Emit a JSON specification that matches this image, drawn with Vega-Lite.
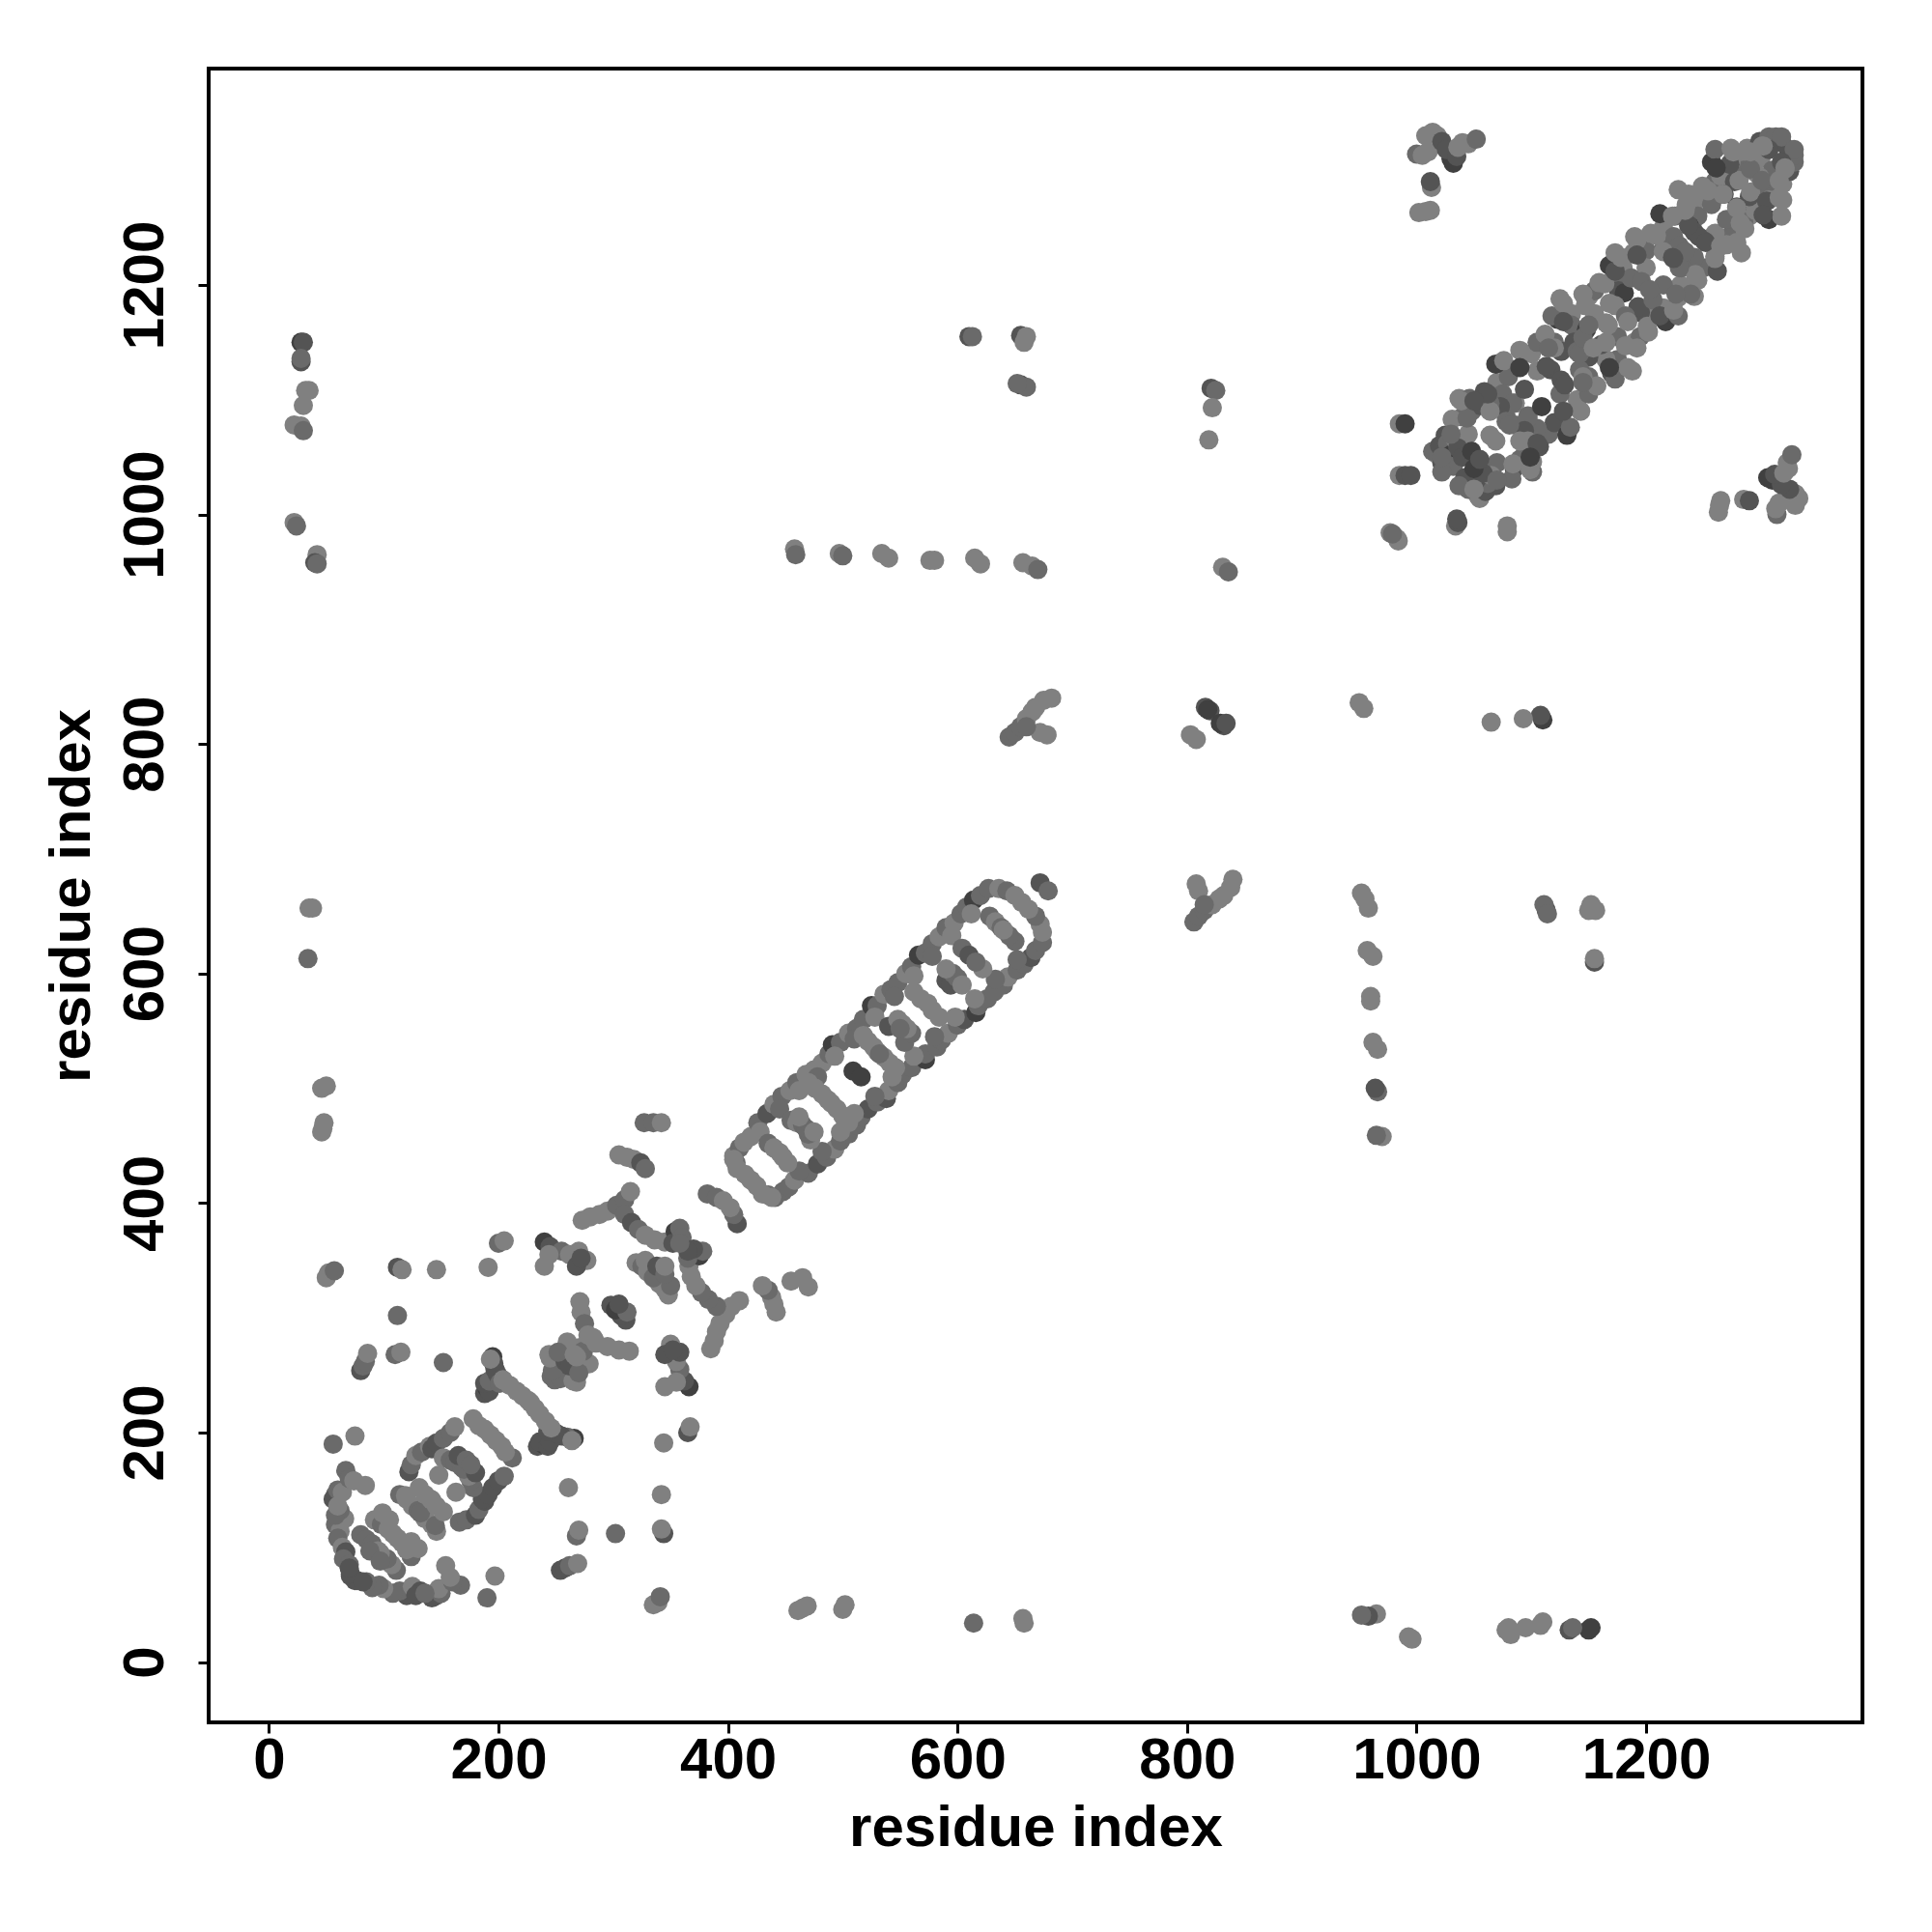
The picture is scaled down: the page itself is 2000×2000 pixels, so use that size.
{"$schema":"https://vega.github.io/schema/vega-lite/v6.json","width":1712,"height":1712,"autosize":"none","padding":{"left":216,"top":71,"right":72,"bottom":217},"background":"white","config":{"view":{"stroke":"#000","strokeWidth":4}},
"data":{"values":[
{"x":58,"y":146,"g":2},{"x":146,"y":58,"g":2},{"x":56,"y":142,"g":1},{"x":142,"y":56,"g":1},{"x":60,"y":150,"g":2},{"x":150,"y":60,"g":2},{"x":64,"y":148,"g":3},{"x":148,"y":64,"g":3},{"x":67,"y":167,"g":2},{"x":167,"y":67,"g":2},{"x":70,"y":160,"g":2},{"x":160,"y":70,"g":2},{"x":74,"y":158,"g":3},{"x":158,"y":74,"g":3},{"x":84,"y":154,"g":3},{"x":154,"y":84,"g":3},{"x":58,"y":120,"g":2},{"x":120,"y":58,"g":1},{"x":62,"y":114,"g":3},{"x":114,"y":62,"g":2},{"x":60,"y":108,"g":2},{"x":108,"y":60,"g":2},{"x":66,"y":125,"g":3},{"x":125,"y":66,"g":3},{"x":62,"y":132,"g":2},{"x":132,"y":62,"g":1},{"x":58,"y":128,"g":2},{"x":128,"y":58,"g":1},{"x":60,"y":136,"g":3},{"x":136,"y":60,"g":2},{"x":64,"y":100,"g":3},{"x":100,"y":64,"g":3},{"x":67,"y":96,"g":1},{"x":96,"y":67,"g":2},{"x":65,"y":90,"g":2},{"x":90,"y":65,"g":2},{"x":70,"y":85,"g":2},{"x":85,"y":70,"g":2},{"x":71,"y":75,"g":1},{"x":75,"y":71,"g":1},{"x":77,"y":71,"g":1},{"x":71,"y":77,"g":1},{"x":82,"y":70,"g":1},{"x":70,"y":82,"g":1},
{"x":56,"y":190,"g":2},{"x":190,"y":56,"g":2},{"x":75,"y":197,"g":3},{"x":197,"y":75,"g":3},
{"x":80,"y":111,"g":2},{"x":111,"y":80,"g":2},{"x":85,"y":107,"g":2},{"x":107,"y":85,"g":3},{"x":90,"y":103,"g":2},{"x":103,"y":90,"g":2},{"x":95,"y":97,"g":3},{"x":97,"y":95,"g":3},{"x":88,"y":97,"g":2},{"x":97,"y":88,"g":2},
{"x":92,"y":124,"g":3},{"x":124,"y":92,"g":2},{"x":98,"y":120,"g":2},{"x":120,"y":98,"g":3},{"x":104,"y":116,"g":3},{"x":116,"y":104,"g":3},{"x":108,"y":112,"g":3},{"x":112,"y":108,"g":3},{"x":99,"y":130,"g":3},{"x":130,"y":99,"g":3},{"x":105,"y":124,"g":3},{"x":124,"y":105,"g":3},
{"x":114,"y":146,"g":2},{"x":146,"y":114,"g":3},{"x":120,"y":142,"g":3},{"x":142,"y":120,"g":3},{"x":125,"y":136,"g":3},{"x":136,"y":125,"g":3},{"x":130,"y":132,"g":2},{"x":132,"y":130,"g":2},{"x":119,"y":145,"g":3},{"x":145,"y":119,"g":2},
{"x":131,"y":152,"g":3},{"x":152,"y":131,"g":3},{"x":136,"y":146,"g":3},{"x":146,"y":136,"g":3},{"x":141,"y":142,"g":3},{"x":142,"y":141,"g":3},
{"x":122,"y":166,"g":1},{"x":166,"y":122,"g":2},{"x":124,"y":172,"g":2},{"x":172,"y":124,"g":2},{"x":128,"y":180,"g":3},{"x":180,"y":128,"g":1},{"x":133,"y":183,"g":2},{"x":183,"y":133,"g":2},{"x":140,"y":188,"g":3},{"x":188,"y":140,"g":1},{"x":142,"y":186,"g":1},{"x":186,"y":142,"g":1},{"x":146,"y":191,"g":1},{"x":191,"y":146,"g":1},{"x":152,"y":195,"g":2},{"x":195,"y":152,"g":1},{"x":158,"y":200,"g":2},{"x":200,"y":158,"g":1},{"x":162,"y":205,"g":3},{"x":205,"y":162,"g":2},
{"x":152,"y":178,"g":3},{"x":178,"y":152,"g":2},{"x":158,"y":176,"g":2},{"x":176,"y":158,"g":2},{"x":162,"y":174,"g":2},{"x":174,"y":162,"g":3},{"x":168,"y":170,"g":2},{"x":170,"y":168,"g":2},{"x":165,"y":180,"g":1},{"x":180,"y":165,"g":1},{"x":172,"y":176,"g":2},{"x":176,"y":172,"g":2},{"x":148,"y":163,"g":3},{"x":163,"y":148,"g":3},
{"x":178,"y":212,"g":3},{"x":212,"y":178,"g":2},{"x":183,"y":206,"g":3},{"x":206,"y":183,"g":3},{"x":188,"y":203,"g":3},{"x":203,"y":188,"g":3},{"x":193,"y":198,"g":3},{"x":198,"y":193,"g":3},
{"x":188,"y":234,"g":1},{"x":234,"y":188,"g":1},{"x":190,"y":239,"g":0},{"x":239,"y":190,"g":0},{"x":192,"y":236,"g":1},{"x":236,"y":192,"g":1},{"x":188,"y":243,"g":1},{"x":243,"y":188,"g":1},{"x":192,"y":245,"g":2},{"x":245,"y":192,"g":1},{"x":195,"y":266,"g":0},{"x":266,"y":195,"g":0},{"x":196,"y":260,"g":1},{"x":260,"y":196,"g":2},{"x":197,"y":255,"g":1},{"x":255,"y":197,"g":1},{"x":199,"y":251,"g":1},{"x":251,"y":199,"g":1},{"x":201,"y":243,"g":2},{"x":243,"y":201,"g":1},{"x":204,"y":246,"g":3},{"x":246,"y":204,"g":3},{"x":210,"y":241,"g":3},{"x":241,"y":210,"g":3},{"x":216,"y":236,"g":3},{"x":236,"y":216,"g":3},{"x":221,"y":232,"g":3},{"x":232,"y":221,"g":3},{"x":226,"y":228,"g":3},{"x":228,"y":226,"g":3},{"x":193,"y":264,"g":3},{"x":264,"y":193,"g":3},
{"x":80,"y":254,"g":1},{"x":254,"y":80,"g":1},{"x":82,"y":258,"g":2},{"x":258,"y":82,"g":1},{"x":84,"y":262,"g":2},{"x":262,"y":84,"g":2},{"x":86,"y":269,"g":3},{"x":269,"y":86,"g":3},{"x":110,"y":268,"g":2},{"x":268,"y":110,"g":2},{"x":115,"y":270,"g":3},{"x":270,"y":115,"g":3},{"x":152,"y":261,"g":2},{"x":261,"y":152,"g":3},{"x":112,"y":302,"g":2},{"x":302,"y":112,"g":2},{"x":112,"y":344,"g":1},{"x":344,"y":112,"g":1},{"x":116,"y":342,"g":3},{"x":342,"y":116,"g":3},{"x":146,"y":342,"g":3},{"x":342,"y":146,"g":3},{"x":191,"y":344,"g":3},{"x":344,"y":191,"g":3},{"x":200,"y":365,"g":2},{"x":365,"y":200,"g":1},{"x":205,"y":367,"g":3},{"x":367,"y":205,"g":3},{"x":50,"y":335,"g":3},{"x":335,"y":50,"g":3},{"x":52,"y":339,"g":3},{"x":339,"y":52,"g":3},{"x":57,"y":341,"g":2},{"x":341,"y":57,"g":2},
{"x":244,"y":268,"g":3},{"x":268,"y":244,"g":3},{"x":246,"y":249,"g":2},{"x":249,"y":246,"g":2},{"x":260,"y":279,"g":3},{"x":279,"y":260,"g":3},{"x":271,"y":274,"g":3},{"x":274,"y":271,"g":2},{"x":254,"y":247,"g":2},{"x":247,"y":254,"g":2},{"x":265,"y":245,"g":3},{"x":245,"y":265,"g":3},{"x":258,"y":262,"g":1},{"x":262,"y":258,"g":1},{"x":252,"y":270,"g":2},{"x":270,"y":252,"g":2},{"x":266,"y":268,"g":3},{"x":268,"y":266,"g":3},
{"x":271,"y":314,"g":3},{"x":314,"y":271,"g":3},{"x":272,"y":305,"g":3},{"x":305,"y":272,"g":3},{"x":275,"y":295,"g":2},{"x":295,"y":275,"g":3},{"x":278,"y":285,"g":3},{"x":285,"y":278,"g":3},{"x":283,"y":282,"g":3},{"x":282,"y":283,"g":3},
{"x":298,"y":311,"g":1},{"x":311,"y":298,"g":1},{"x":303,"y":308,"g":0},{"x":308,"y":303,"g":1},{"x":307,"y":302,"g":1},{"x":302,"y":307,"g":0},{"x":312,"y":305,"g":2},{"x":305,"y":312,"g":1},
{"x":320,"y":348,"g":3},{"x":348,"y":320,"g":3},{"x":325,"y":345,"g":2},{"x":345,"y":325,"g":3},{"x":330,"y":340,"g":3},{"x":340,"y":330,"g":3},{"x":328,"y":350,"g":3},{"x":350,"y":328,"g":2},{"x":335,"y":335,"g":2},{"x":338,"y":345,"g":1},{"x":345,"y":338,"g":2},{"x":345,"y":345,"g":3},
{"x":273,"y":385,"g":3},{"x":385,"y":273,"g":3},{"x":280,"y":388,"g":3},{"x":388,"y":280,"g":3},{"x":288,"y":390,"g":3},{"x":390,"y":288,"g":3},{"x":295,"y":393,"g":3},{"x":393,"y":295,"g":3},{"x":303,"y":398,"g":2},{"x":398,"y":303,"g":3},{"x":310,"y":403,"g":2},{"x":403,"y":310,"g":3},{"x":315,"y":410,"g":3},{"x":410,"y":315,"g":3},
{"x":310,"y":390,"g":2},{"x":390,"y":310,"g":2},{"x":316,"y":383,"g":1},{"x":383,"y":316,"g":2},{"x":322,"y":377,"g":2},{"x":377,"y":322,"g":2},{"x":328,"y":372,"g":3},{"x":372,"y":328,"g":3},{"x":336,"y":368,"g":3},{"x":368,"y":336,"g":3},{"x":345,"y":366,"g":3},{"x":366,"y":345,"g":3},
{"x":354,"y":375,"g":0},{"x":375,"y":354,"g":0},{"x":352,"y":365,"g":1},{"x":365,"y":352,"g":2},{"x":358,"y":378,"g":2},{"x":378,"y":358,"g":2},{"x":360,"y":370,"g":2},{"x":370,"y":360,"g":1},{"x":365,"y":358,"g":1},{"x":358,"y":365,"g":2},
{"x":240,"y":366,"g":0},{"x":366,"y":240,"g":0},{"x":245,"y":362,"g":1},{"x":362,"y":245,"g":1},{"x":255,"y":358,"g":2},{"x":358,"y":255,"g":2},{"x":262,"y":355,"g":3},{"x":355,"y":262,"g":3},{"x":270,"y":358,"g":3},{"x":358,"y":270,"g":1},{"x":277,"y":350,"g":3},{"x":350,"y":277,"g":3},{"x":268,"y":345,"g":1},{"x":345,"y":268,"g":1},{"x":272,"y":352,"g":1},{"x":352,"y":272,"g":1},{"x":240,"y":345,"g":3},{"x":345,"y":240,"g":3},{"x":244,"y":355,"g":3},{"x":355,"y":244,"g":3},
{"x":305,"y":442,"g":3},{"x":442,"y":305,"g":3},{"x":312,"y":440,"g":3},{"x":440,"y":312,"g":3},{"x":318,"y":438,"g":3},{"x":438,"y":318,"g":3},{"x":324,"y":435,"g":1},{"x":435,"y":324,"g":2},{"x":328,"y":430,"g":2},{"x":430,"y":328,"g":3},{"x":327,"y":470,"g":2},{"x":470,"y":327,"g":3},{"x":335,"y":470,"g":2},{"x":465,"y":335,"g":3},{"x":342,"y":470,"g":3},{"x":455,"y":332,"g":3},
{"x":382,"y":408,"g":2},{"x":408,"y":382,"g":1},{"x":390,"y":405,"g":2},{"x":405,"y":390,"g":2},{"x":396,"y":402,"g":3},{"x":402,"y":396,"g":3},
{"x":28,"y":1150,"g":0},{"x":1150,"y":28,"g":0},{"x":30,"y":1150,"g":1},{"x":1152,"y":30,"g":0},{"x":28,"y":1133,"g":1},{"x":1133,"y":28,"g":1},{"x":28,"y":1136,"g":2},{"x":1136,"y":30,"g":2},{"x":32,"y":1108,"g":3},{"x":1108,"y":32,"g":3},{"x":35,"y":1108,"g":3},{"x":1110,"y":35,"g":3},{"x":30,"y":1095,"g":3},{"x":1095,"y":30,"g":3},{"x":22,"y":1078,"g":3},{"x":1078,"y":28,"g":3},{"x":28,"y":1077,"g":3},{"x":1080,"y":30,"g":3},{"x":30,"y":1073,"g":2},{"x":1082,"y":24,"g":3},{"x":22,"y":993,"g":3},{"x":993,"y":22,"g":3},{"x":24,"y":990,"g":2},{"x":996,"y":20,"g":3},{"x":42,"y":965,"g":3},{"x":965,"y":42,"g":3},{"x":40,"y":958,"g":1},{"x":958,"y":40,"g":1},{"x":42,"y":957,"g":2},{"x":952,"y":41,"g":2},{"x":35,"y":657,"g":3},{"x":657,"y":38,"g":3},{"x":38,"y":657,"g":3},{"x":658,"y":34,"g":3},{"x":34,"y":613,"g":2},{"x":614,"y":34,"g":2},{"x":46,"y":500,"g":3},{"x":500,"y":46,"g":3},{"x":50,"y":502,"g":3},{"x":502,"y":50,"g":3},{"x":48,"y":470,"g":3},{"x":469,"y":49,"g":3},{"x":46,"y":462,"g":3},{"x":461,"y":45,"g":3},{"x":47,"y":465,"g":3},{"x":465,"y":47,"g":3},
{"x":610,"y":1155,"g":1},{"x":1155,"y":610,"g":1},{"x":613,"y":1155,"g":2},{"x":1155,"y":613,"g":3},{"x":655,"y":1156,"g":1},{"x":1156,"y":655,"g":3},{"x":660,"y":1155,"g":3},{"x":1152,"y":660,"g":3},{"x":658,"y":1150,"g":3},{"x":1150,"y":655,"g":3},{"x":655,"y":1113,"g":1},{"x":1113,"y":655,"g":1},{"x":660,"y":1111,"g":2},{"x":1111,"y":660,"g":2},{"x":652,"y":1114,"g":2},{"x":1114,"y":652,"g":2},
{"x":458,"y":970,"g":3},{"x":970,"y":458,"g":3},{"x":459,"y":965,"g":2},{"x":965,"y":459,"g":2},{"x":497,"y":966,"g":3},{"x":966,"y":497,"g":2},{"x":500,"y":964,"g":2},{"x":964,"y":500,"g":1},{"x":534,"y":966,"g":3},{"x":966,"y":534,"g":3},{"x":540,"y":962,"g":3},{"x":962,"y":540,"g":3},{"x":576,"y":960,"g":3},{"x":960,"y":576,"g":3},{"x":580,"y":960,"g":3},{"x":960,"y":580,"g":3},{"x":615,"y":962,"g":3},{"x":962,"y":615,"g":3},{"x":620,"y":957,"g":3},{"x":957,"y":620,"g":3},{"x":657,"y":958,"g":3},{"x":958,"y":657,"g":3},{"x":665,"y":955,"g":3},{"x":955,"y":665,"g":3},{"x":670,"y":952,"g":2},{"x":952,"y":670,"g":3},
{"x":821,"y":1110,"g":1},{"x":1110,"y":821,"g":0},{"x":825,"y":1108,"g":2},{"x":1108,"y":825,"g":1},{"x":822,"y":1093,"g":3},{"x":1093,"y":822,"g":3},{"x":819,"y":1065,"g":3},{"x":1065,"y":819,"g":3},{"x":831,"y":954,"g":3},{"x":954,"y":831,"g":3},{"x":836,"y":950,"g":2},{"x":950,"y":836,"g":3},
{"x":645,"y":806,"g":2},{"x":806,"y":645,"g":2},{"x":650,"y":810,"g":2},{"x":810,"y":650,"g":2},{"x":655,"y":815,"g":2},{"x":815,"y":655,"g":2},{"x":660,"y":822,"g":3},{"x":822,"y":660,"g":3},{"x":665,"y":828,"g":3},{"x":828,"y":665,"g":3},{"x":668,"y":832,"g":3},{"x":832,"y":668,"g":3},{"x":675,"y":838,"g":3},{"x":838,"y":675,"g":3},{"x":682,"y":840,"g":3},{"x":840,"y":682,"g":3},{"x":672,"y":810,"g":3},{"x":810,"y":672,"g":3},{"x":678,"y":808,"g":3},{"x":808,"y":678,"g":3},{"x":660,"y":815,"g":2},{"x":815,"y":660,"g":2},
{"x":803,"y":808,"g":3},{"x":808,"y":804,"g":3},{"x":816,"y":832,"g":1},{"x":832,"y":816,"g":1},{"x":820,"y":829,"g":1},{"x":829,"y":818,"g":0},{"x":834,"y":818,"g":1},{"x":818,"y":830,"g":0},
{"x":1000,"y":1314,"g":2},{"x":1314,"y":1000,"g":2},{"x":1005,"y":1313,"g":3},{"x":1313,"y":1005,"g":3},{"x":1010,"y":1316,"g":3},{"x":1316,"y":1010,"g":3},{"x":1008,"y":1330,"g":3},{"x":1330,"y":1008,"g":3},{"x":1014,"y":1333,"g":3},{"x":1333,"y":1014,"g":3},{"x":1018,"y":1330,"g":3},{"x":1330,"y":1018,"g":3},{"x":1022,"y":1325,"g":1},{"x":1325,"y":1022,"g":1},{"x":1030,"y":1310,"g":0},{"x":1310,"y":1030,"g":0},{"x":1032,"y":1306,"g":0},{"x":1306,"y":1032,"g":0},{"x":1026,"y":1318,"g":1},{"x":1318,"y":1026,"g":1},{"x":1035,"y":1312,"g":1},{"x":1312,"y":1035,"g":1},{"x":1036,"y":1320,"g":3},{"x":1320,"y":1036,"g":3},{"x":1040,"y":1324,"g":3},{"x":1324,"y":1040,"g":3},{"x":1045,"y":1323,"g":3},{"x":1323,"y":1045,"g":3},{"x":1052,"y":1327,"g":2},{"x":1327,"y":1052,"g":2},{"x":1013,"y":1285,"g":3},{"x":1285,"y":1013,"g":3},{"x":1012,"y":1290,"g":1},{"x":1290,"y":1012,"g":1},{"x":1002,"y":1263,"g":3},{"x":1263,"y":1002,"g":3},{"x":1008,"y":1264,"g":3},{"x":1264,"y":1008,"g":3},{"x":1012,"y":1265,"g":3},{"x":1265,"y":1012,"g":3},
{"x":985,"y":1079,"g":3},{"x":1079,"y":985,"g":3},{"x":990,"y":1079,"g":0},{"x":1079,"y":990,"g":3},{"x":985,"y":1034,"g":3},{"x":1034,"y":990,"g":3},{"x":990,"y":1034,"g":1},{"x":1036,"y":993,"g":1},{"x":995,"y":1034,"g":1},{"x":1035,"y":996,"g":1},{"x":977,"y":984,"g":3},{"x":984,"y":977,"g":3},{"x":983,"y":979,"g":3},{"x":979,"y":983,"g":2},
{"x":1040,"y":1085,"g":2},{"x":1085,"y":1040,"g":1},{"x":1048,"y":1090,"g":2},{"x":1090,"y":1048,"g":2},{"x":1055,"y":1095,"g":1},{"x":1095,"y":1055,"g":2},{"x":1070,"y":1115,"g":3},{"x":1115,"y":1070,"g":2},{"x":1080,"y":1120,"g":2},{"x":1120,"y":1080,"g":1},{"x":1100,"y":1140,"g":3},{"x":1140,"y":1100,"g":3},{"x":1105,"y":1150,"g":2},{"x":1150,"y":1105,"g":2},{"x":1135,"y":1175,"g":3},{"x":1175,"y":1135,"g":2},{"x":1150,"y":1190,"g":3},{"x":1190,"y":1150,"g":3},{"x":1155,"y":1195,"g":2},{"x":1195,"y":1155,"g":2},{"x":1180,"y":1215,"g":3},{"x":1215,"y":1180,"g":3},{"x":1200,"y":1230,"g":2},{"x":1230,"y":1200,"g":3},{"x":1215,"y":1250,"g":3},{"x":1250,"y":1215,"g":2},{"x":1225,"y":1260,"g":2},{"x":1260,"y":1225,"g":3},{"x":1245,"y":1275,"g":3},{"x":1275,"y":1245,"g":2},{"x":1260,"y":1290,"g":2},{"x":1290,"y":1260,"g":3},{"x":1270,"y":1300,"g":3},{"x":1300,"y":1270,"g":3},{"x":1285,"y":1310,"g":3},{"x":1310,"y":1285,"g":2},{"x":1295,"y":1315,"g":2},{"x":1315,"y":1295,"g":3},{"x":1045,"y":1070,"g":3},{"x":1070,"y":1045,"g":2},{"x":1075,"y":1105,"g":2},{"x":1105,"y":1075,"g":2},{"x":1105,"y":1125,"g":3},{"x":1125,"y":1105,"g":2},{"x":1120,"y":1150,"g":2},{"x":1150,"y":1120,"g":2},{"x":1135,"y":1165,"g":2},{"x":1165,"y":1135,"g":3},{"x":1155,"y":1175,"g":3},{"x":1175,"y":1155,"g":2},{"x":1175,"y":1205,"g":2},{"x":1205,"y":1175,"g":3},{"x":1200,"y":1215,"g":3},{"x":1215,"y":1200,"g":2},{"x":1245,"y":1260,"g":2},{"x":1260,"y":1245,"g":3},{"x":1255,"y":1285,"g":2},{"x":1285,"y":1255,"g":2},{"x":1265,"y":1295,"g":3},{"x":1295,"y":1265,"g":3},{"x":1285,"y":1300,"g":2},{"x":1300,"y":1285,"g":2},{"x":1300,"y":1310,"g":3},{"x":1310,"y":1300,"g":2},
{"x":1017,"y":1053,"g":3},{"x":1053,"y":1017,"g":3},{"x":1025,"y":1069,"g":1},{"x":1069,"y":1025,"g":1},{"x":1031,"y":1083,"g":3},{"x":1083,"y":1031,"g":2},{"x":1037,"y":1101,"g":3},{"x":1101,"y":1037,"g":2},{"x":1046,"y":1101,"g":2},{"x":1101,"y":1046,"g":3},{"x":1059,"y":1107,"g":1},{"x":1107,"y":1059,"g":1},{"x":1069,"y":1131,"g":0},{"x":1131,"y":1069,"g":0},{"x":1076,"y":1134,"g":3},{"x":1134,"y":1076,"g":2},{"x":1090,"y":1143,"g":3},{"x":1143,"y":1090,"g":3},{"x":1090,"y":1128,"g":0},{"x":1128,"y":1090,"g":1},{"x":1112,"y":1157,"g":3},{"x":1157,"y":1112,"g":3},{"x":1123,"y":1170,"g":0},{"x":1170,"y":1123,"g":1},{"x":1125,"y":1188,"g":3},{"x":1188,"y":1125,"g":3},{"x":1118,"y":1173,"g":2},{"x":1173,"y":1118,"g":2},{"x":1145,"y":1192,"g":3},{"x":1192,"y":1145,"g":3},{"x":1159,"y":1202,"g":3},{"x":1202,"y":1159,"g":3},{"x":1168,"y":1217,"g":0},{"x":1217,"y":1168,"g":0},{"x":1173,"y":1228,"g":3},{"x":1228,"y":1173,"g":2},{"x":1190,"y":1242,"g":3},{"x":1242,"y":1190,"g":3},{"x":1189,"y":1228,"g":3},{"x":1228,"y":1189,"g":3},{"x":1204,"y":1245,"g":3},{"x":1245,"y":1204,"g":3},{"x":1212,"y":1262,"g":0},{"x":1262,"y":1212,"g":1},{"x":1228,"y":1283,"g":3},{"x":1283,"y":1228,"g":3},{"x":1235,"y":1270,"g":3},{"x":1270,"y":1235,"g":3},{"x":1249,"y":1286,"g":3},{"x":1286,"y":1249,"g":3},{"x":1257,"y":1307,"g":0},{"x":1307,"y":1257,"g":0},{"x":1260,"y":1318,"g":2},{"x":1318,"y":1260,"g":3},{"x":1274,"y":1319,"g":3},{"x":1319,"y":1274,"g":3},{"x":1288,"y":1319,"g":3},{"x":1319,"y":1288,"g":3},{"x":1299,"y":1325,"g":1},{"x":1325,"y":1299,"g":1},{"x":1307,"y":1329,"g":2},{"x":1329,"y":1307,"g":2},{"x":1313,"y":1329,"g":2},{"x":1329,"y":1313,"g":2},{"x":1321,"y":1301,"g":3},{"x":1301,"y":1321,"g":3},{"x":1324,"y":1318,"g":1},{"x":1318,"y":1324,"g":1},{"x":1318,"y":1329,"g":2},{"x":1329,"y":1318,"g":2},{"x":1307,"y":1318,"g":1},{"x":1318,"y":1307,"g":1},
{"x":1014,"y":1055,"g":2},{"x":1055,"y":1014,"g":3},{"x":1020,"y":1060,"g":1},{"x":1060,"y":1020,"g":1},{"x":1022,"y":1045,"g":1},{"x":1045,"y":1022,"g":2},{"x":1027,"y":1062,"g":2},{"x":1062,"y":1027,"g":2},{"x":1030,"y":1052,"g":0},{"x":1052,"y":1030,"g":1},{"x":1032,"y":1042,"g":2},{"x":1042,"y":1032,"g":1},{"x":1034,"y":1065,"g":3},{"x":1065,"y":1034,"g":3},{"x":1036,"y":1058,"g":1},{"x":1058,"y":1036,"g":1},{"x":1040,"y":1050,"g":1},{"x":1050,"y":1040,"g":0},{"x":1048,"y":1055,"g":0},{"x":1055,"y":1048,"g":1},{"x":1022,"y":1037,"g":2},{"x":1037,"y":1025,"g":2},{"x":1050,"y":1022,"g":3},{"x":1022,"y":1050,"g":2},{"x":1070,"y":1030,"g":2},{"x":1030,"y":1070,"g":2},{"x":1084,"y":1044,"g":3},{"x":1044,"y":1084,"g":2},{"x":1099,"y":1039,"g":3},{"x":1039,"y":1099,"g":3},{"x":1103,"y":1061,"g":1},{"x":1061,"y":1103,"g":1},{"x":1064,"y":1069,"g":3},{"x":1069,"y":1064,"g":3},
{"x":1078,"y":1086,"g":2},{"x":1086,"y":1078,"g":2},{"x":1086,"y":1097,"g":3},{"x":1097,"y":1086,"g":2},{"x":1084,"y":1097,"g":2},{"x":1097,"y":1084,"g":2},{"x":1073,"y":1094,"g":1},{"x":1094,"y":1073,"g":1},{"x":1064,"y":1097,"g":2},{"x":1097,"y":1064,"g":3},{"x":1094,"y":1109,"g":1},{"x":1109,"y":1094,"g":0},{"x":1078,"y":1081,"g":2},{"x":1081,"y":1078,"g":2},{"x":1064,"y":1090,"g":3},{"x":1090,"y":1064,"g":3},{"x":1062,"y":1105,"g":1},{"x":1105,"y":1062,"g":1},{"x":1050,"y":1099,"g":1},{"x":1099,"y":1050,"g":0},
{"x":1137,"y":1150,"g":1},{"x":1150,"y":1137,"g":1},{"x":1148,"y":1161,"g":0},{"x":1161,"y":1148,"g":1},{"x":1126,"y":1142,"g":1},{"x":1142,"y":1126,"g":2},{"x":1140,"y":1142,"g":2},{"x":1142,"y":1140,"g":2},{"x":1145,"y":1154,"g":2},{"x":1154,"y":1145,"g":3},{"x":1165,"y":1167,"g":3},{"x":1167,"y":1165,"g":3},{"x":1150,"y":1165,"g":2},{"x":1165,"y":1150,"g":3},{"x":1147,"y":1182,"g":3},{"x":1182,"y":1147,"g":3},{"x":1128,"y":1184,"g":3},{"x":1184,"y":1128,"g":3},{"x":1128,"y":1168,"g":1},{"x":1168,"y":1128,"g":0},{"x":1120,"y":1145,"g":3},{"x":1145,"y":1120,"g":3},{"x":1117,"y":1126,"g":1},{"x":1126,"y":1117,"g":1},{"x":1113,"y":1129,"g":1},{"x":1129,"y":1113,"g":1},{"x":1115,"y":1145,"g":2},{"x":1145,"y":1115,"g":2},
{"x":1176,"y":1195,"g":1},{"x":1195,"y":1176,"g":1},{"x":1181,"y":1193,"g":0},{"x":1193,"y":1181,"g":1},{"x":1173,"y":1182,"g":3},{"x":1182,"y":1173,"g":2},{"x":1168,"y":1184,"g":3},{"x":1184,"y":1168,"g":3},{"x":1164,"y":1201,"g":3},{"x":1201,"y":1164,"g":3},{"x":1187,"y":1206,"g":2},{"x":1206,"y":1187,"g":2},{"x":1196,"y":1203,"g":2},{"x":1203,"y":1196,"g":2},{"x":1173,"y":1212,"g":1},{"x":1212,"y":1173,"g":1},{"x":1178,"y":1224,"g":3},{"x":1224,"y":1178,"g":3},{"x":1192,"y":1239,"g":3},{"x":1239,"y":1192,"g":2},{"x":1192,"y":1226,"g":1},{"x":1226,"y":1192,"g":2},
{"x":1238,"y":1251,"g":0},{"x":1251,"y":1238,"g":1},{"x":1224,"y":1242,"g":2},{"x":1242,"y":1224,"g":2},{"x":1215,"y":1231,"g":2},{"x":1231,"y":1215,"g":2},{"x":1229,"y":1234,"g":2},{"x":1234,"y":1229,"g":2},{"x":1242,"y":1246,"g":1},{"x":1246,"y":1242,"g":1},{"x":1237,"y":1252,"g":1},{"x":1252,"y":1237,"g":1},{"x":1234,"y":1265,"g":3},{"x":1265,"y":1234,"g":3},{"x":1237,"y":1279,"g":3},{"x":1279,"y":1237,"g":3},{"x":1223,"y":1260,"g":3},{"x":1260,"y":1223,"g":3},{"x":1209,"y":1243,"g":3},{"x":1243,"y":1209,"g":3},{"x":1215,"y":1229,"g":3},{"x":1229,"y":1215,"g":2},{"x":1224,"y":1223,"g":1},{"x":1223,"y":1224,"g":1},
{"x":1277,"y":1290,"g":1},{"x":1290,"y":1277,"g":1},{"x":1268,"y":1279,"g":1},{"x":1279,"y":1268,"g":1},{"x":1257,"y":1270,"g":2},{"x":1270,"y":1257,"g":2},{"x":1267,"y":1279,"g":3},{"x":1279,"y":1267,"g":3},{"x":1281,"y":1291,"g":3},{"x":1291,"y":1281,"g":3},{"x":1294,"y":1299,"g":3},{"x":1299,"y":1294,"g":3},{"x":1291,"y":1301,"g":2},{"x":1301,"y":1291,"g":2},{"x":1274,"y":1307,"g":3},{"x":1307,"y":1274,"g":3},{"x":1254,"y":1282,"g":3},{"x":1282,"y":1254,"g":3},{"x":1273,"y":1305,"g":1},{"x":1305,"y":1273,"g":1},{"x":1276,"y":1316,"g":3},{"x":1316,"y":1276,"g":3},{"x":1261,"y":1302,"g":0},{"x":1302,"y":1261,"g":1},{"x":1291,"y":1316,"g":3},{"x":1316,"y":1291,"g":3},{"x":1302,"y":1321,"g":3},{"x":1321,"y":1302,"g":3},
{"x":405,"y":441,"g":3},{"x":441,"y":405,"g":2},{"x":407,"y":435,"g":2},{"x":435,"y":407,"g":2},{"x":410,"y":448,"g":2},{"x":448,"y":410,"g":2},{"x":414,"y":453,"g":3},{"x":453,"y":414,"g":2},{"x":420,"y":458,"g":3},{"x":458,"y":420,"g":3},{"x":426,"y":470,"g":2},{"x":470,"y":426,"g":2},{"x":434,"y":478,"g":1},{"x":478,"y":434,"g":1},{"x":440,"y":486,"g":3},{"x":486,"y":440,"g":2},{"x":447,"y":493,"g":2},{"x":493,"y":447,"g":3},{"x":454,"y":498,"g":3},{"x":498,"y":454,"g":2},{"x":460,"y":505,"g":2},{"x":505,"y":460,"g":2},{"x":468,"y":512,"g":3},{"x":512,"y":468,"g":2},{"x":475,"y":516,"g":3},{"x":516,"y":475,"g":2},{"x":482,"y":522,"g":3},{"x":522,"y":482,"g":1},{"x":488,"y":530,"g":2},{"x":530,"y":488,"g":2},{"x":491,"y":538,"g":0},{"x":538,"y":491,"g":1},{"x":498,"y":540,"g":2},{"x":540,"y":498,"g":3},{"x":505,"y":548,"g":3},{"x":548,"y":505,"g":2},{"x":512,"y":552,"g":2},{"x":552,"y":512,"g":2},{"x":518,"y":560,"g":2},{"x":560,"y":518,"g":2},{"x":525,"y":572,"g":0},{"x":572,"y":525,"g":0},{"x":530,"y":572,"g":2},{"x":572,"y":530,"g":2},{"x":536,"y":582,"g":3},{"x":582,"y":536,"g":2},{"x":542,"y":586,"g":2},{"x":586,"y":542,"g":2},{"x":548,"y":592,"g":2},{"x":592,"y":548,"g":3},{"x":555,"y":600,"g":3},{"x":600,"y":555,"g":2},{"x":560,"y":606,"g":2},{"x":606,"y":560,"g":1},{"x":566,"y":616,"g":0},{"x":616,"y":566,"g":0},{"x":572,"y":618,"g":2},{"x":618,"y":572,"g":2},{"x":578,"y":626,"g":2},{"x":626,"y":578,"g":2},{"x":584,"y":632,"g":3},{"x":632,"y":584,"g":2},{"x":590,"y":640,"g":2},{"x":640,"y":590,"g":2},{"x":597,"y":644,"g":3},{"x":644,"y":597,"g":3},{"x":603,"y":652,"g":2},{"x":652,"y":603,"g":2},{"x":608,"y":658,"g":2},{"x":658,"y":608,"g":2},{"x":614,"y":664,"g":0},{"x":664,"y":614,"g":1},{"x":620,"y":668,"g":2},{"x":668,"y":620,"g":2},{"x":627,"y":674,"g":2},{"x":674,"y":627,"g":2},{"x":636,"y":674,"g":3},{"x":674,"y":636,"g":3},{"x":643,"y":672,"g":2},{"x":672,"y":643,"g":3},{"x":650,"y":668,"g":3},{"x":668,"y":650,"g":2},{"x":656,"y":662,"g":3},{"x":662,"y":656,"g":3},{"x":672,"y":679,"g":1},{"x":679,"y":672,"g":2},
{"x":428,"y":462,"g":3},{"x":462,"y":428,"g":2},{"x":445,"y":482,"g":2},{"x":482,"y":445,"g":2},{"x":462,"y":498,"g":3},{"x":498,"y":462,"g":3},{"x":478,"y":510,"g":2},{"x":510,"y":478,"g":3},{"x":493,"y":528,"g":3},{"x":528,"y":493,"g":2},{"x":510,"y":543,"g":2},{"x":543,"y":510,"g":3},{"x":528,"y":562,"g":3},{"x":562,"y":528,"g":3},{"x":545,"y":580,"g":2},{"x":580,"y":545,"g":2},{"x":562,"y":598,"g":3},{"x":598,"y":562,"g":3},{"x":578,"y":615,"g":2},{"x":615,"y":578,"g":3},{"x":595,"y":633,"g":3},{"x":633,"y":595,"g":2},{"x":612,"y":652,"g":3},{"x":652,"y":612,"g":2},
{"x":405,"y":438,"g":3},{"x":438,"y":405,"g":3},{"x":408,"y":430,"g":3},{"x":430,"y":408,"g":3},{"x":415,"y":425,"g":3},{"x":425,"y":415,"g":3},{"x":420,"y":420,"g":3},
{"x":435,"y":452,"g":2},{"x":452,"y":435,"g":3},{"x":440,"y":448,"g":3},{"x":448,"y":440,"g":3},{"x":445,"y":444,"g":3},{"x":455,"y":472,"g":2},{"x":472,"y":455,"g":3},{"x":460,"y":470,"g":3},{"x":470,"y":460,"g":2},{"x":465,"y":468,"g":2},{"x":468,"y":465,"g":2},{"x":462,"y":475,"g":3},{"x":475,"y":462,"g":3},
{"x":470,"y":505,"g":3},{"x":505,"y":470,"g":3},{"x":476,"y":500,"g":3},{"x":500,"y":476,"g":3},{"x":482,"y":495,"g":3},{"x":495,"y":482,"g":3},{"x":487,"y":490,"g":3},{"x":490,"y":487,"g":3},{"x":509,"y":515,"g":0},{"x":516,"y":510,"g":0},
{"x":518,"y":546,"g":3},{"x":546,"y":518,"g":3},{"x":522,"y":541,"g":3},{"x":541,"y":522,"g":3},{"x":527,"y":536,"g":3},{"x":536,"y":527,"g":3},{"x":530,"y":532,"g":3},{"x":532,"y":530,"g":2},
{"x":540,"y":554,"g":1},{"x":554,"y":540,"g":2},{"x":548,"y":560,"g":3},{"x":560,"y":548,"g":2},{"x":552,"y":556,"g":3},{"x":556,"y":552,"g":3},{"x":550,"y":552,"g":2},
{"x":562,"y":584,"g":3},{"x":584,"y":562,"g":3},{"x":568,"y":578,"g":3},{"x":578,"y":568,"g":3},{"x":574,"y":574,"g":3},
{"x":590,"y":594,"g":1},{"x":594,"y":590,"g":1},{"x":596,"y":600,"g":2},{"x":600,"y":596,"g":2},{"x":590,"y":604,"g":3},{"x":604,"y":590,"g":3},
{"x":604,"y":622,"g":2},{"x":622,"y":604,"g":3},{"x":610,"y":616,"g":1},{"x":616,"y":610,"g":2},
{"x":628,"y":650,"g":2},{"x":650,"y":628,"g":2},{"x":633,"y":645,"g":3},{"x":645,"y":633,"g":2},{"x":638,"y":640,"g":2},{"x":640,"y":638,"g":3}
]},
"mark":{"type":"point","filled":true,"opacity":1,"size":400,"shape":"circle"},
"encoding":{
"x":{"field":"x","type":"quantitative","scale":{"domain":[-52.5,1388.5],"nice":false,"zero":false},"axis":{"values":[0,200,400,600,800,1000,1200],"format":"d","grid":false,"domain":false,"tickColor":"#000","tickWidth":3,"tickSize":11,"title":"residue index","labelFont":"Liberation Sans","labelFontWeight":"bold","labelFontSize":60,"labelColor":"#000","labelPadding":-1,"titleFont":"Liberation Sans","titleFontWeight":"bold","titleFontSize":60,"titleColor":"#000","titlePadding":11,"labelFlush":false,"labelOverlap":false}},
"y":{"field":"y","type":"quantitative","scale":{"domain":[-52.5,1388.5],"nice":false,"zero":false},"axis":{"values":[0,200,400,600,800,1000,1200],"format":"d","grid":false,"domain":false,"tickColor":"#000","tickWidth":3,"tickSize":11,"title":"residue index","labelFont":"Liberation Sans","labelFontWeight":"bold","labelFontSize":60,"labelColor":"#000","labelAngle":270,"labelAlign":"center","labelBaseline":"bottom","labelPadding":24,"titleFont":"Liberation Sans","titleFontWeight":"bold","titleFontSize":60,"titleColor":"#000","titlePadding":15,"labelFlush":false,"labelOverlap":false}},
"color":{"field":"g","type":"quantitative","legend":null,"scale":{"domain":[0,3],"range":["#404040","#808080"]}}
}}
